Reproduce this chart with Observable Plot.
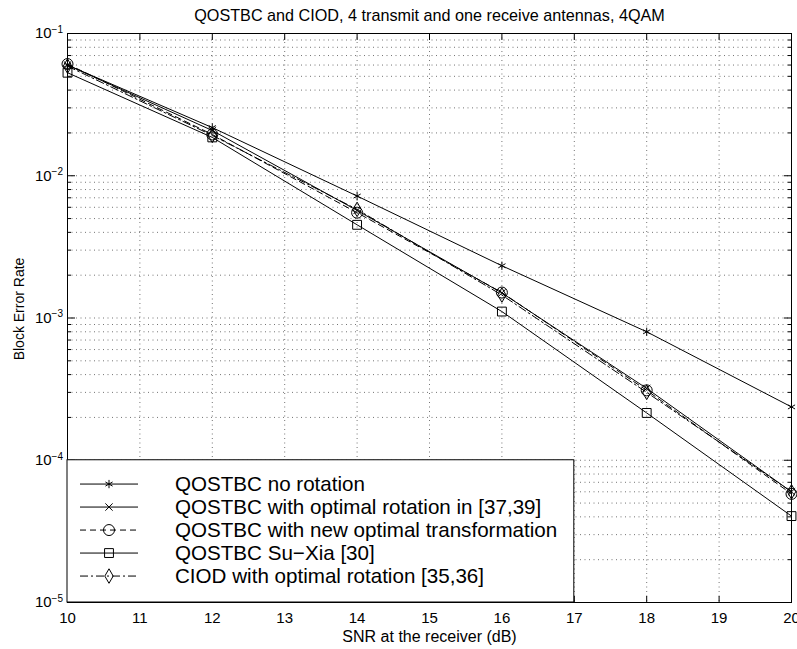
<!DOCTYPE html>
<html><head><meta charset="utf-8">
<script src="https://cdn.jsdelivr.net/npm/d3@7"></script>
<script src="https://cdn.jsdelivr.net/npm/@observablehq/plot@0.6"></script>
<style>
html,body{margin:0;padding:0;background:#fff;}
#chart{width:797px;height:649px;}
svg{font-family:"Liberation Sans",Arial,Helvetica,sans-serif;}
</style></head><body><div id="chart"></div>
<script>
const snr = [10, 12, 14, 16, 18, 20];
const noRotation   = [0.060, 0.0218, 0.0072, 0.00233, 0.00080, 0.000237];
const optRotation  = [0.060, 0.0208, 0.0057, 0.00150, 0.00032, 0.000060];
const newTransform = [0.061, 0.0195, 0.0055, 0.00151, 0.00031, 0.000058];
const suXia        = [0.053, 0.0186, 0.00452, 0.00111, 0.000215, 0.0000405];
const ciod         = [0.059, 0.0192, 0.0058, 0.00145, 0.00030, 0.000060];

const seriesNames = [
  "QOSTBC no rotation",
  "QOSTBC with optimal rotation in [37,39]",
  "QOSTBC with new optimal transformation",
  "QOSTBC Su\u2212Xia [30]",
  "CIOD with optimal rotation [35,36]"
];
const seriesSymbols = ["asterisk", "times", "circle", "square", "diamond"];
const seriesMarkerR = [3.9, 3.4, 5.5, 5, 4.4];
const seriesDashes = ["none", "none", "6,4", "none", "8,3,2,3"];

const xTicks = [10, 11, 12, 13, 14, 15, 16, 17, 18, 19, 20];
const yTicks = [1e-5, 1e-4, 1e-3, 1e-2, 1e-1];
const decadeSteps = [2, 3, 4, 5, 6, 7, 8, 9];
const yMinor = yTicks.slice(0, -1).flatMap(d => decadeSteps.map(k => k * d));

const titleText = "QOSTBC and CIOD, 4 transmit and one receive antennas, 4QAM";
const xLabel = "SNR at the receiver (dB)";
const yLabel = "Block Error Rate";

const seriesValues = [noRotation, optRotation, newTransform, suXia, ciod];
const rows = seriesValues.flatMap((vals, s) =>
  vals.map((v, i) => ({snr: snr[i], ber: v, series: seriesNames[s], size: seriesMarkerR[s]})));

const FONT = '"Liberation Sans", Arial, Helvetica, sans-serif';
const gridStyle = {stroke: "#000", strokeOpacity: 0.55, strokeDasharray: "1,3.5"};

const plot = Plot.plot({
  width: 797, height: 649,
  marginLeft: 67, marginRight: 6, marginTop: 33, marginBottom: 47,
  style: {fontFamily: FONT, fontSize: "15px", color: "black", background: "white"},
  x: {domain: [10, 20]},
  y: {type: "log", domain: [1e-5, 1e-1]},
  r: {type: "identity"},
  symbol: {domain: seriesNames, range: seriesSymbols},
  marks: [
    Plot.gridY([...yMinor, ...yTicks], gridStyle),
    Plot.gridX(xTicks, gridStyle),
    ...seriesNames.map((name, s) => Plot.line(rows.filter(r => r.series === name), {
      x: "snr", y: "ber", stroke: "black", strokeWidth: 1, strokeDasharray: seriesDashes[s]
    })),
    Plot.dot(rows, {x: "snr", y: "ber", symbol: "series", r: "size", stroke: "black", fill: "none", strokeWidth: 1}),
    Plot.frame({stroke: "black"}),
    Plot.axisX(xTicks, {anchor: "bottom", tickSize: -6, tickPadding: 16, fontSize: 15, label: null}),
    Plot.axisX(xTicks, {anchor: "top", tickSize: -6, tickFormat: () => "", label: null}),
    Plot.axisY(yTicks, {anchor: "left", tickSize: -8, tickPadding: 12.5, fontSize: 15,
      tickFormat: d => String(Math.round(Math.log10(d))), label: null}),
    Plot.axisY(yMinor, {anchor: "left", tickSize: -4, tickFormat: () => "", label: null}),
    Plot.axisY(yTicks, {anchor: "right", tickSize: -8, tickFormat: () => "", label: null}),
    Plot.axisY(yMinor, {anchor: "right", tickSize: -4, tickFormat: () => "", label: null}),
    Plot.text([titleText], {frameAnchor: "top", lineAnchor: "middle", dy: -18, fontSize: 16.2}),
    Plot.text([xLabel], {frameAnchor: "bottom", lineAnchor: "middle", dy: 34, fontSize: 16}),
    Plot.text([yLabel], {frameAnchor: "left", textAnchor: "middle", lineAnchor: "middle", dx: -48, dy: -9, rotate: -90, fontSize: 14})
  ]
});

document.getElementById("chart").appendChild(plot);

const svg = d3.select(plot);
// superscript exponents on y tick labels
svg.selectAll('g[aria-label="y-axis tick label"] text').each(function() {
  const e = this.textContent;
  if (!e) return;
  this.textContent = "10";
  d3.select(this).append("tspan").attr("dy", "-0.55em").attr("font-size", "10px").text(e.replace("-", "\u2212"));
});

// legend box
const x = plot.scale("x"), y = plot.scale("y");
const lx0 = x.apply(10), lx1 = x.apply(17), ly0 = y.apply(1e-4), ly1 = y.apply(1e-5);
const d3Symbols = {asterisk: d3.symbolAsterisk, times: d3.symbolTimes, circle: d3.symbolCircle, square: d3.symbolSquare, diamond: d3.symbolDiamond};
const lg = svg.append("g").attr("aria-label", "legend").attr("text-anchor", "start");
lg.append("rect").attr("x", lx0).attr("y", ly0).attr("width", lx1 - lx0).attr("height", ly1 - ly0)
  .attr("fill", "white").attr("stroke", "black");
seriesNames.forEach((name, i) => {
  const cy = ly0 + 24.3 + 23 * i;
  lg.append("line").attr("x1", lx0 + 13).attr("x2", lx0 + 71).attr("y1", cy).attr("y2", cy)
    .attr("stroke", "black").attr("stroke-dasharray", seriesDashes[i]);
  lg.append("path").attr("transform", `translate(${lx0 + 42},${cy})`)
    .attr("d", d3.symbol(d3Symbols[seriesSymbols[i]], Math.PI * seriesMarkerR[i] ** 2)())
    .attr("fill", "none").attr("stroke", "black");
  lg.append("text").attr("x", lx0 + 108).attr("y", cy).attr("dy", "0.35em")
    .attr("text-anchor", "start").attr("font-size", 20.6).attr("fill", "black").text(name);
});
</script>
</body></html>
